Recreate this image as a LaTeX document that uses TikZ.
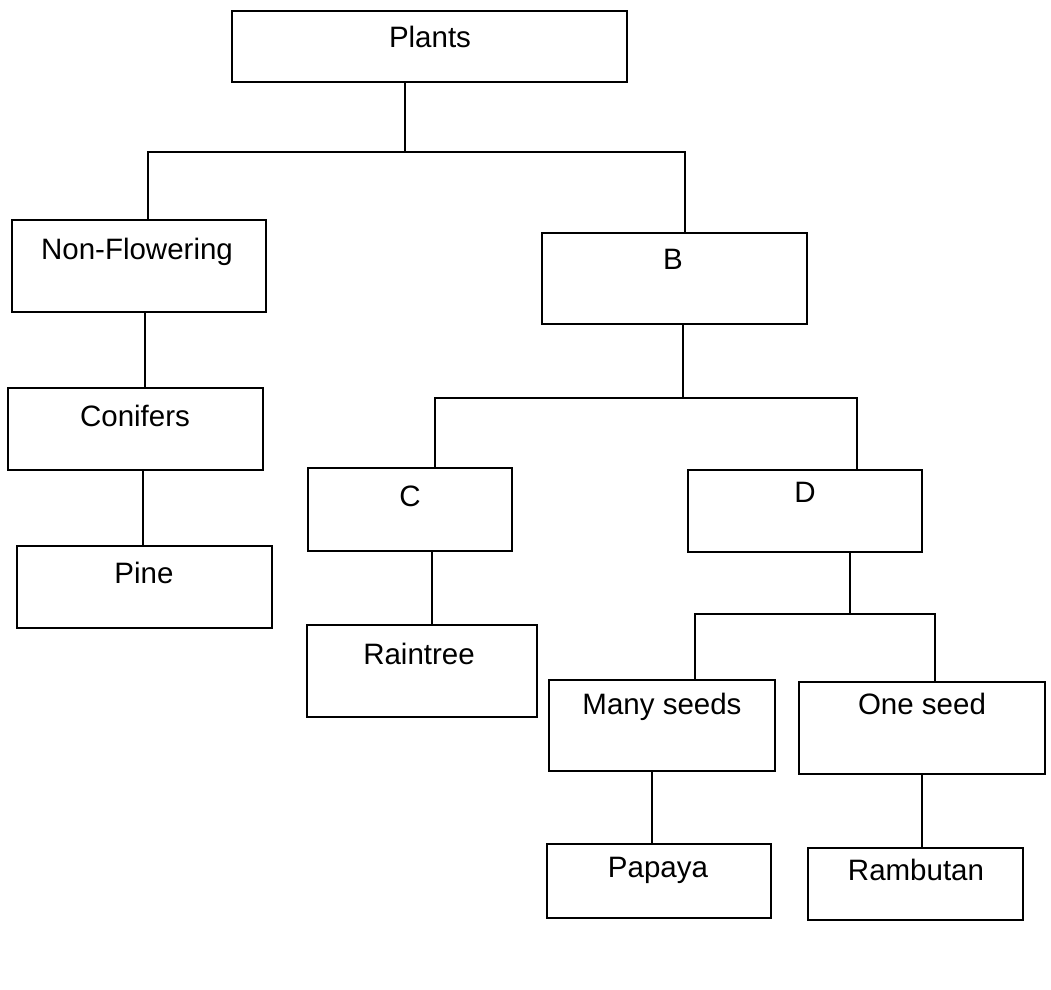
\documentclass[tikz,border=0pt]{standalone}
\usepackage{fontspec}
\setmainfont{Liberation Sans}
\usetikzlibrary{fit}
\begin{document}
\begin{tikzpicture}[x=0.5pt,y=-0.5pt,
  box/.style={draw, line width=1.4pt, inner sep=0pt},
  lbl/.style={anchor=base, inner sep=0pt, font=\fontsize{14.75}{17}\selectfont},
  wire/.style={line width=1.4pt}]
\path[use as bounding box] (0,0) rectangle (1051,990);
% boxes
\node[box, fit={(232,11) (627,82)}] (plants) {};
\node[box, fit={(12,220) (266,312)}] (nf) {};
\node[box, fit={(8,388) (263,470)}] (con) {};
\node[box, fit={(17,546) (272,628)}] (pine) {};
\node[box, fit={(542,233) (807,324)}] (b) {};
\node[box, fit={(308,468) (512,551)}] (c) {};
\node[box, fit={(688,470) (922,552)}] (d) {};
\node[box, fit={(307,625) (537,717)}] (rain) {};
\node[box, fit={(549,680) (775,771)}] (many) {};
\node[box, fit={(799,682) (1045,774)}] (one) {};
\node[box, fit={(547,844) (771,918)}] (pap) {};
\node[box, fit={(808,848) (1023,920)}] (ram) {};
% labels
\node[lbl] (plants-t) at (430,48) {Plants};
\node[lbl] (nf-t) at (137,259) {Non-Flowering};
\node[lbl] (con-t) at (135,426) {Conifers};
\node[lbl] (pine-t) at (144,583) {Pine};
\node[lbl] (b-t) at (673,270) {B};
\node[lbl] (c-t) at (410,506) {C};
\node[lbl] (d-t) at (805,502) {D};
\node[lbl] (rain-t) at (419,664) {Raintree};
\node[lbl] (many-t) at (662,714) {Many seeds};
\node[lbl] (one-t) at (922,714) {One seed};
\node[lbl] (pap-t) at (658,877) {Papaya};
\node[lbl] (ram-t) at (916,880) {Rambutan};
% connectors
\coordinate (j0) at (405,152);
\coordinate (jL) at (148,152);
\coordinate (jR) at (685,152);
\draw[wire] (plants.south -| j0) -- (j0);
\draw[wire] (nf.north -| jL) -- (jL) -- (jR) -- (b.north -| jR);
\coordinate (x1) at (145,0);
\draw[wire] (nf.south -| x1) -- (con.north -| x1);
\coordinate (x2) at (143,0);
\draw[wire] (con.south -| x2) -- (pine.north -| x2);
\coordinate (j1) at (683,398);
\coordinate (j1L) at (435,398);
\coordinate (j1R) at (857,398);
\draw[wire] (b.south -| j1) -- (j1);
\draw[wire] (c.north -| j1L) -- (j1L) -- (j1R) -- (d.north -| j1R);
\coordinate (x3) at (432,0);
\draw[wire] (c.south -| x3) -- (rain.north -| x3);
\coordinate (j2) at (850,614);
\coordinate (j2L) at (695,614);
\coordinate (j2R) at (935,614);
\draw[wire] (d.south -| j2) -- (j2);
\draw[wire] (many.north -| j2L) -- (j2L) -- (j2R) -- (one.north -| j2R);
\coordinate (x4) at (652,0);
\draw[wire] (many.south -| x4) -- (pap.north -| x4);
\coordinate (x5) at (922,0);
\draw[wire] (one.south -| x5) -- (ram.north -| x5);
\end{tikzpicture}
\end{document}
